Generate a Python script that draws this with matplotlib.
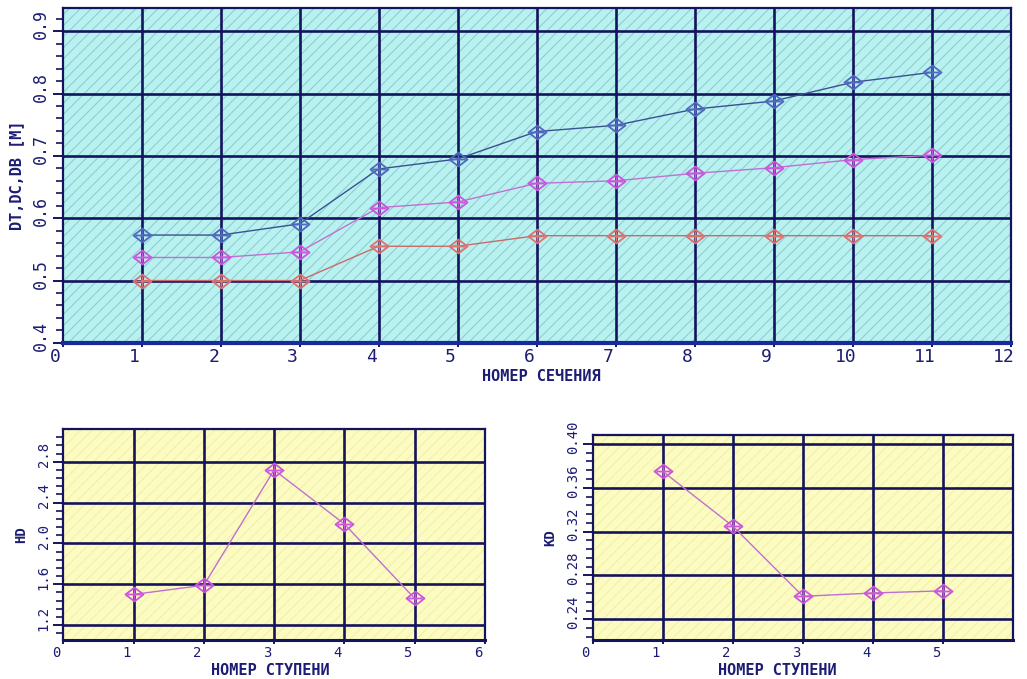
import matplotlib
matplotlib.use("Agg")
import matplotlib.pyplot as plt
from matplotlib.patches import Rectangle
from matplotlib.path import Path
from matplotlib.transforms import ScaledTranslation
import numpy as np

# ---- data ----
sections = [1, 2, 3, 4, 5, 6, 7, 8, 9, 10, 11]
dt_values = [0.573, 0.573, 0.591, 0.679, 0.695, 0.739, 0.749, 0.775, 0.788, 0.818, 0.834]
dc_values = [0.537, 0.537, 0.546, 0.617, 0.626, 0.656, 0.660, 0.672, 0.681, 0.694, 0.701]
db_values = [0.500, 0.500, 0.500, 0.555, 0.555, 0.572, 0.572, 0.572, 0.572, 0.572, 0.572]

stages = [1, 2, 3, 4, 5]
hd_values = [1.50, 1.59, 2.72, 2.19, 1.46]
kd_values = [0.375, 0.325, 0.261, 0.264, 0.266]

top_xticks = list(range(0, 13))
top_yticks = [0.4, 0.5, 0.6, 0.7, 0.8, 0.9]
top_ytick_labels = ["0.4", "0.5", "0.6", "0.7", "0.8", "0.9"]
bl_xticks = [0, 1, 2, 3, 4, 5, 6]
bl_yticks = [1.2, 1.6, 2.0, 2.4, 2.8]
bl_ytick_labels = ["1.2", "1.6", "2.0", "2.4", "2.8"]
br_xticks = [0, 1, 2, 3, 4, 5]
br_yticks = [0.24, 0.28, 0.32, 0.36, 0.40]
br_ytick_labels = ["0.24", "0.28", "0.32", "0.36", "0.40"]

# ---- style ----
NAVY = "#14145e"
TXT = "#1c1c74"
FONT = "DejaVu Sans Mono"
plt.rcParams["hatch.linewidth"] = 0.7

marker_path = Path([(-1.3, 0), (0, 1), (1.3, 0), (0, -1), (-1.3, 0),
                    (-1.0, 0), (1.0, 0), (0, 0.75), (0, -0.75)],
                   [Path.MOVETO, Path.LINETO, Path.LINETO, Path.LINETO, Path.CLOSEPOLY,
                    Path.MOVETO, Path.LINETO, Path.MOVETO, Path.LINETO])

fig = plt.figure(figsize=(10.27, 6.79), dpi=100)
fig.patch.set_facecolor("white")


def style_axes(ax, bg, hatch_col, xlim, ylim, xticks, yticks, ylabels, xgrid, ygrid,
               yminor, xlabel, ylabel, tick_fs, ytick_fs, label_fs, ylabel_fs,
               bottom_col, bottom_lw, xlabel_xy, ylabel_pad=4):
    ax.set_xlim(*xlim)
    ax.set_ylim(*ylim)
    ax.set_facecolor(bg)
    ax.add_patch(Rectangle((0, 0), 1, 1, transform=ax.transAxes, facecolor=bg,
                           edgecolor=hatch_col, hatch="///", linewidth=0, zorder=0))
    for g in xgrid:
        ax.axvline(g, color=NAVY, lw=1.9, zorder=1)
    for g in ygrid:
        ax.axhline(g, color=NAVY, lw=1.9, zorder=1)
    for s in ["top", "right", "left"]:
        ax.spines[s].set_color(NAVY)
        ax.spines[s].set_linewidth(1.6)
    ax.spines["bottom"].set_color(bottom_col)
    ax.spines["bottom"].set_linewidth(bottom_lw)
    ax.set_xticks(xticks)
    ax.set_xticklabels([str(t) for t in xticks], fontsize=tick_fs, family=FONT, color=TXT)
    ax.set_yticks(yticks)
    ax.set_yticklabels(ylabels, fontsize=ytick_fs, family=FONT, color=TXT,
                       rotation=90, va="center")
    ax.set_yticks(yminor, minor=True)
    ax.tick_params(axis="y", which="major", direction="out", length=7, width=1.4,
                   color=NAVY, pad=2)
    ax.tick_params(axis="y", which="minor", direction="out", length=5, width=1.2,
                   color=NAVY)
    ax.tick_params(axis="x", which="major", direction="out", length=3, width=1.4,
                   color=NAVY, pad=1)
    ax.set_xlabel(xlabel, fontsize=label_fs, family=FONT, color=TXT,
                  fontweight="bold")
    ax.xaxis.set_label_coords(*xlabel_xy)
    ax.xaxis.label.set_va("center")
    ax.set_ylabel(ylabel, fontsize=ylabel_fs, family=FONT, color=TXT,
                  fontweight="bold", labelpad=ylabel_pad)


def shift_ticklabels(ax, dx_px, dy_px):
    for lab in ax.get_yticklabels():
        lab.set_transform(lab.get_transform() +
                          ScaledTranslation(0, dy_px / 100.0, fig.dpi_scale_trans))
    for lab in ax.get_xticklabels():
        lab.set_transform(lab.get_transform() +
                          ScaledTranslation(dx_px / 100.0, 0, fig.dpi_scale_trans))


def plot_series(ax, x, y, color, line_color=None):
    ax.plot(x, y, color=line_color or color, lw=1.0, zorder=3)
    ax.plot(x, y, linestyle="none", marker=marker_path, markersize=13,
            markerfacecolor="none", markeredgecolor=color, markeredgewidth=1.3, zorder=4)


# ---- top chart ----
ax1 = fig.add_axes([0.061, 0.495, 0.923, 0.493])
style_axes(ax1, "#b9f1f1", "#86cccb", (0, 12), (0.4, 0.937), top_xticks,
           top_yticks, top_ytick_labels, sections, [0.5, 0.6, 0.7, 0.8, 0.9],
           np.arange(0.42, 0.937, 0.02), "НОМЕР СЕЧЕНИЯ", "DT,DC,DB [M]",
           13, 12, 11, 11, "#1a2a9a", 3.0, (0.505, -0.10), ylabel_pad=6)
plot_series(ax1, sections, dt_values, "#5068c0", "#3a5090")
plot_series(ax1, sections, dc_values, "#cc55dd", "#c070d0")
plot_series(ax1, sections, db_values, "#dd7272", "#c86a6a")

# ---- bottom left ----
ax2 = fig.add_axes([0.0616, 0.0574, 0.4106, 0.3106])
style_axes(ax2, "#fbfbc2", "#f0f0a4", (0, 6), (1.053, 3.12), bl_xticks,
           bl_yticks, bl_ytick_labels, stages, bl_yticks, np.arange(1.12, 3.12, 0.08),
           "НОМЕР СТУПЕНИ", "HD", 10, 10, 11, 10, NAVY, 2.2, (0.49, -0.145),
           ylabel_pad=6)
plot_series(ax2, stages, hd_values, "#cc55dd", "#c070d0")

# ---- bottom right ----
ax3 = fig.add_axes([0.577, 0.0574, 0.4097, 0.3017])
style_axes(ax3, "#fbfbc2", "#f0f0a4", (0, 6), (0.2211, 0.408), br_xticks,
           br_yticks, br_ytick_labels, stages, br_yticks, np.arange(0.224, 0.408, 0.008),
           "НОМЕР СТУПЕНИ", "KD", 10, 10, 11, 10, NAVY, 2.2, (0.44, -0.15),
           ylabel_pad=6)
plot_series(ax3, stages, kd_values, "#cc55dd", "#c070d0")

for a in (ax1, ax2, ax3):
    shift_ticklabels(a, -7, 7)

fig.savefig("out.png", dpi=100, facecolor="white")
